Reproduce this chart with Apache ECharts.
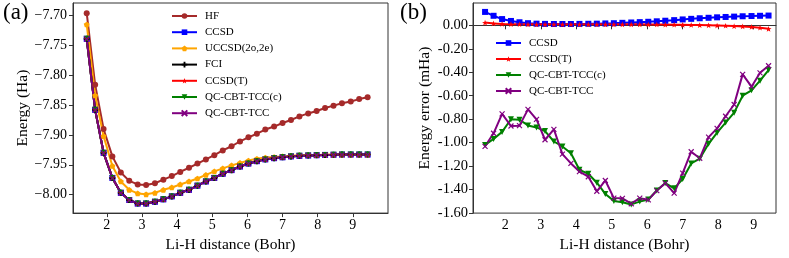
<!DOCTYPE html>
<html><head><meta charset="utf-8">
<script src="https://cdn.jsdelivr.net/npm/echarts@6/dist/echarts.min.js"></script>
<style>html,body{margin:0;padding:0;background:#fff;}#c{width:789px;height:258px;}</style>
</head><body><div id="c"></div>
<script>
// Li-H distance (Bohr)
const distance = [1.43,1.67,1.91,2.16,2.40,2.64,2.88,3.12,3.37,3.61,3.85,4.09,4.34,4.58,4.82,5.06,5.30,5.55,5.79,6.03,6.27,6.51,6.76,7.00,7.24,7.48,7.73,7.97,8.21,8.45,8.69,8.94,9.18,9.42];
// Panel (a): energies (Ha)
const hfEnergy = [-7.696,-7.816,-7.890,-7.936,-7.963,-7.977,-7.983,-7.984,-7.981,-7.975,-7.969,-7.962,-7.955,-7.948,-7.941,-7.934,-7.926,-7.919,-7.911,-7.904,-7.898,-7.891,-7.886,-7.880,-7.875,-7.869,-7.864,-7.860,-7.855,-7.851,-7.847,-7.844,-7.840,-7.837];
const uccsdEnergy = [-7.715,-7.834,-7.902,-7.952,-7.978,-7.992,-7.998,-7.9995,-7.997,-7.992,-7.988,-7.983,-7.978,-7.973,-7.967,-7.961,-7.956,-7.951,-7.947,-7.943,-7.940,-7.938,-7.937,-7.936,-7.935,-7.934,-7.934,-7.934,-7.933,-7.933,-7.933,-7.933,-7.933,-7.933];
// FCI; CCSD, CCSD(T) and both QC-CBT-TCC curves coincide with it at this scale
const fciEnergy = [-7.739,-7.858,-7.930,-7.972,-7.997,-8.009,-8.015,-8.015,-8.012,-8.008,-8.003,-7.997,-7.992,-7.985,-7.978,-7.972,-7.965,-7.959,-7.953,-7.948,-7.944,-7.941,-7.939,-7.9375,-7.936,-7.935,-7.9345,-7.934,-7.9335,-7.9333,-7.933,-7.933,-7.933,-7.933];
// Panel (b): energy errors (mHa)
const ccsdError = [0.114,0.081,0.053,0.037,0.026,0.018,0.014,0.012,0.011,0.011,0.011,0.012,0.013,0.014,0.016,0.018,0.021,0.024,0.027,0.030,0.034,0.039,0.044,0.050,0.055,0.060,0.064,0.068,0.071,0.074,0.077,0.079,0.081,0.083];
const ccsdtError = [0.023,0.016,0.012,0.010,0.009,0.008,0.008,0.008,0.008,0.008,0.008,0.008,0.008,0.008,0.008,0.008,0.008,0.008,0.008,0.007,0.007,0.006,0.005,0.004,0.003,0.002,0.000,-0.002,-0.004,-0.007,-0.010,-0.014,-0.020,-0.030];
const tccCError = [-1.020,-0.968,-0.908,-0.800,-0.805,-0.853,-0.870,-0.901,-0.990,-1.032,-1.090,-1.231,-1.265,-1.341,-1.437,-1.496,-1.508,-1.526,-1.502,-1.484,-1.408,-1.344,-1.389,-1.310,-1.177,-1.136,-1.010,-0.915,-0.829,-0.744,-0.600,-0.554,-0.472,-0.381];
const tccError = [-1.031,-0.920,-0.755,-0.858,-0.855,-0.716,-0.801,-0.975,-0.887,-1.097,-1.177,-1.246,-1.290,-1.414,-1.322,-1.472,-1.474,-1.520,-1.473,-1.487,-1.408,-1.345,-1.430,-1.260,-1.077,-1.133,-0.953,-0.878,-0.775,-0.675,-0.418,-0.523,-0.405,-0.345];
// tick labels
const xTicks = [2,3,4,5,6,7,8,9];
const energyTicks = [-8.00,-7.95,-7.90,-7.85,-7.80,-7.75,-7.70];
const errorTicks = [-1.60,-1.40,-1.20,-1.00,-0.80,-0.60,-0.40,-0.20,0.00];

const FONT = 'Liberation Serif';
const C = {hf:'#a52a2a', ccsd:'#0000ff', ucc:'#ffa500', fci:'#000000', ccsdt:'#ff0000', tccc:'#008000', tcc:'#800080'};
const SYM = {
  plus: 'path://M-1,-3H1V-1H3V1H1V3H-1V1H-3V-1H-1Z',
  star: 'path://M0,-10L2.35,-3.24L9.51,-3.09L3.8,1.24L5.88,8.09L0,4L-5.88,8.09L-3.8,1.24L-9.51,-3.09L-2.35,-3.24Z',
  pent: 'path://M0,-10L9.51,-3.09L5.88,8.09L-5.88,8.09L-9.51,-3.09Z',
  x: 'path://M-5,-5L5,5M5,-5L-5,5'
};
const pairs = ys => distance.map((x, i) => [x, ys[i]]);
function mk(name, ys, color, symbol, size, idx, extra) {
  const s = {
    name, type:'line', data: pairs(ys), xAxisIndex: idx, yAxisIndex: idx,
    symbol, symbolSize: size, symbolKeepAspect: true,
    lineStyle:{color, width:2}, itemStyle:{color, borderColor:color, borderWidth: symbol===SYM.x?1.2:0},
    emphasis:{disabled:true}, z: 2
  };
  return Object.assign(s, extra || {});
}
const axisCommon = {
  axisLine:{show:true, lineStyle:{color:'#333', width:1}},
  splitLine:{show:false},
  nameTextStyle:{fontFamily:FONT, fontSize:15.5, color:'#000'}
};
function xAx(idx, mn, mx){
  return Object.assign({}, axisCommon, {
    type:'value', gridIndex: idx, min:mn, max:mx,
    name:'Li-H distance (Bohr)', nameLocation:'middle', nameGap:21,
    axisLabel:{customValues: xTicks, fontFamily:FONT, fontSize:14, color:'#000', margin:5},
    axisTick:{show:true, length:4, customValues: xTicks, lineStyle:{color:'#333'}}
  });
}
const legendCommon = {
  orient:'vertical', padding:0, itemWidth:25, itemHeight:7, selectedMode:false,
  textStyle:{fontFamily:FONT, fontSize:11, color:'#000', lineHeight:12, padding:[0,0,0,3]}
};
const chart = echarts.init(document.getElementById('c'), null, {renderer:'canvas'});
chart.setOption({
  animation:false,
  backgroundColor:'#fff',
  title:[
    {text:'(a)', left:3, top:1, padding:0, textStyle:{fontFamily:FONT, fontSize:23, fontWeight:'normal', color:'#000'}},
    {text:'(b)', left:400, top:1, padding:0, textStyle:{fontFamily:FONT, fontSize:23, fontWeight:'normal', color:'#000'}}
  ],
  grid:[
    {left:73, width:315, top:3, height:217, show:true, borderColor:'#333', borderWidth:1, containLabel:false},
    {left:473, width:303, top:3, height:217, show:true, borderColor:'#333', borderWidth:1, containLabel:false}
  ],
  legend:[
    Object.assign({}, legendCommon, {left:171, top:10, itemGap:4.2,
     data:['HF','CCSD','UCCSD(2o,2e)','FCI','CCSD(T)','QC-CBT-TCC(c)','QC-CBT-TCC']}),
    Object.assign({}, legendCommon, {left:495, top:37, itemGap:4,
     data:['CCSD ','CCSD(T) ','QC-CBT-TCC(c) ','QC-CBT-TCC '],
     formatter: n => n.trim()})
  ],
  xAxis:[xAx(0, 1.04, 10.0), xAx(1, 1.09, 9.63)],
  yAxis:[
    Object.assign({}, axisCommon, {
      type:'value', gridIndex:0, min:-8.031, max:-7.679,
      name:'Energy (Ha)', nameLocation:'middle', nameGap:41, nameRotate:90,
      axisLabel:{customValues: energyTicks, fontFamily:FONT, fontSize:14, color:'#000', margin:6,
        formatter: v => (v < 0 ? '\u2212' : '') + Math.abs(v).toFixed(2)},
      axisTick:{show:true, length:4, customValues: energyTicks, lineStyle:{color:'#333'}}
    }),
    Object.assign({}, axisCommon, {
      type:'value', gridIndex:1, min:-1.60, max:0.19,
      name:'Energy error (mHa)', nameLocation:'middle', nameGap:40, nameRotate:90,
      axisLabel:{customValues: errorTicks, fontFamily:FONT, fontSize:14.5, color:'#000', margin:5,
        formatter: v => (Math.abs(v) < 1e-9 ? '0.00' : v.toFixed(2))},
      axisTick:{show:true, length:4, customValues: errorTicks, lineStyle:{color:'#333'}}
    })
  ],
  series:[
    mk('HF', hfEnergy, C.hf, 'circle', 6, 0),
    mk('CCSD', fciEnergy, C.ccsd, 'rect', 6, 0),
    mk('UCCSD(2o,2e)', uccsdEnergy, C.ucc, SYM.pent, 6, 0),
    mk('FCI', fciEnergy, C.fci, SYM.plus, 6, 0),
    mk('CCSD(T)', fciEnergy, C.ccsdt, SYM.star, 6, 0),
    mk('QC-CBT-TCC(c)', fciEnergy, C.tccc, 'triangle', 6, 0, {symbolRotate:180}),
    mk('QC-CBT-TCC', fciEnergy, C.tcc, SYM.x, 5, 0),
    mk('CCSD ', ccsdError, C.ccsd, 'rect', 6, 1),
    mk('CCSD(T) ', ccsdtError, C.ccsdt, SYM.star, 6, 1),
    mk('QC-CBT-TCC(c) ', tccCError, C.tccc, 'triangle', 6, 1, {symbolRotate:180}),
    mk('QC-CBT-TCC ', tccError, C.tcc, SYM.x, 5, 1)
  ]
});
</script></body></html>
